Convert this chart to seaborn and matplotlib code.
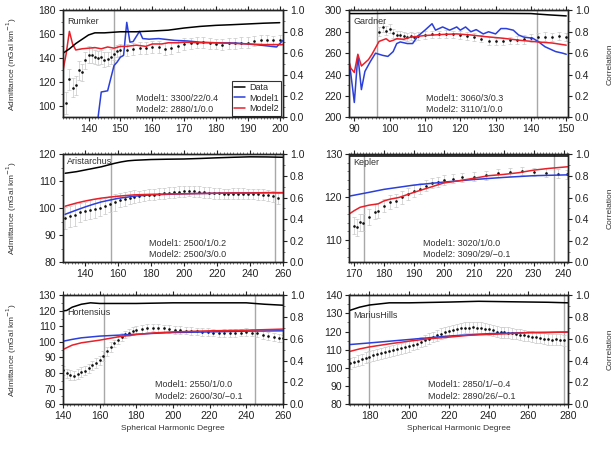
import matplotlib
matplotlib.use("Agg")
import matplotlib.pyplot as plt
from matplotlib.ticker import MultipleLocator, FormatStrFormatter
from matplotlib.lines import Line2D
import seaborn as sns

sns.set_theme(style="ticks")
plt.rcParams["font.family"] = ["Liberation Sans", "DejaVu Sans"]

# ---------------- Rumker ----------------
rumker_obs_deg = [133, 134, 135, 136, 137, 138, 139, 140, 141, 142, 143, 144, 145, 146, 147, 148, 149, 150,
                  152, 154, 156, 158, 160, 162, 164, 166, 168, 170, 172, 174, 176, 178, 180, 182, 184, 186,
                  188, 190, 192, 194, 196, 198, 200]
rumker_obs = [103, 122.5, 115.5, 117.5, 130, 128.5, 138.5, 143, 142.5, 141, 140.5, 141, 139, 139.5, 141.5,
              144, 146.5, 147, 147, 148, 148.5, 149, 149.5, 149.5, 148, 149, 150.5, 152, 152.5, 153, 153.5,
              152.5, 152, 151.5, 152.5, 152.5, 153, 153, 154.5, 155.5, 155.5, 155, 155.5]
rumker_err = [9, 9, 8, 8, 8, 7, 7, 7, 6, 6, 6, 6, 6, 6, 6, 5, 5, 5, 5, 5, 5, 5, 5, 5, 5, 5, 5, 5,
              4.5, 4.5, 4.5, 4.5, 4.5, 4.5, 4.5, 4.5, 4.5, 4.5, 4, 4, 4, 4, 4]
rumker_m1_deg = [143, 144, 146, 148, 149, 150, 151, 152, 153, 154, 156, 157, 159, 162, 167, 171, 175, 180,
                 186, 190, 194, 199, 201]
rumker_m1 = [91, 112, 113, 134, 137, 141, 142.5, 170, 153.5, 154, 162.5, 156.5, 156, 156.5, 155, 154.5,
             153.5, 153, 152.8, 152, 151, 149.5, 155]
rumker_m2_deg = [132, 133, 134, 135, 136, 138, 140, 142, 144, 146, 148, 150, 152, 155, 158, 160, 163, 165,
                 168, 170, 175, 180, 185, 190, 195, 201]
rumker_m2 = [130, 144, 162.5, 152, 147, 148, 148.5, 149, 148, 149.5, 148.5, 150, 150, 151, 150, 152, 152,
             153, 153, 153.5, 153, 153, 152.5, 152, 151.5, 151.5]
rumker_corr_deg = [132, 134, 136, 138, 140, 142, 145, 150, 155, 160, 165, 170, 175, 180, 185, 190, 195, 200]
rumker_corr = [0.60, 0.64, 0.69, 0.73, 0.77, 0.79, 0.79, 0.80, 0.80, 0.807, 0.815, 0.835, 0.85, 0.86,
               0.866, 0.873, 0.88, 0.885]

# ---------------- Gardner ----------------
gardner_obs_deg = [97, 98, 99, 100, 101, 102, 103, 104, 105, 106, 107, 108, 110, 112, 114, 116, 118, 120,
                   122, 124, 126, 128, 130, 132, 134, 136, 138, 140, 142, 144, 146, 148, 150]
gardner_obs = [280, 284, 281, 283, 278.5, 277, 277, 276, 275, 276, 275, 276, 277, 277.5, 277.5, 278, 277.5,
               277, 276, 275, 273.5, 271.5, 271, 271, 272, 272.5, 273, 274, 275, 275.5, 275, 276, 275]
gardner_err = [4, 4, 4, 4, 4, 4, 4, 4, 3.5, 3.5, 3.5, 3.5, 3.5, 3.5, 3.5, 3.5, 3.5, 3.5, 3.5, 3.5,
               3.5, 3.5, 3.5, 3.5, 3.5, 3.5, 4, 4, 4, 4, 4, 4, 4]
gardner_m1_deg = [88.5, 89, 90, 91, 92, 93, 94.5, 96, 98, 99.5, 101, 102, 103, 105, 106.5, 108, 110, 112,
                  113, 115, 117, 119, 120, 121.5, 123, 124.5, 126.5, 128, 130, 131.5, 133, 135, 136.5, 138,
                  140.5, 142, 144, 147, 149, 150]
gardner_m1 = [252, 241, 214, 258, 226, 243, 252, 260, 258, 257, 261.5, 269, 270.5, 269, 269, 276, 281.5,
              287.5, 281.5, 284.5, 281.5, 284.5, 281.5, 284.5, 280, 282, 278, 280, 278, 283, 283, 281.5,
              277, 275, 274, 271, 266, 261.5, 260, 259]
gardner_m2_deg = [88.5, 89, 90, 91, 92, 94, 95, 97, 99, 100, 101, 102, 104, 106, 110, 115, 119, 123, 127,
                  132, 137, 142, 146, 150]
gardner_m2 = [252, 246, 242, 259, 248, 254, 259, 271, 273.5, 271, 272, 273.5, 273, 275, 276.5, 277.5, 278,
              277, 275.5, 274, 272, 270.5, 269.5, 267.5]
gardner_corr_deg = [88.5, 95, 100, 110, 120, 130, 140, 142, 145, 150]
gardner_corr = [0.97, 0.97, 0.972, 0.972, 0.972, 0.972, 0.97, 0.965, 0.958, 0.948]

# ---------------- Aristarchus ----------------
arist_obs_deg = [128, 131, 134, 137, 140, 143, 146, 149, 152, 155, 158, 161, 164, 167, 170, 173, 176, 179,
                 182, 185, 188, 191, 194, 197, 200, 203, 206, 209, 212, 215, 218, 221, 224, 227, 230, 233,
                 236, 239, 242, 245, 248, 251, 254, 257]
arist_obs = [96.5, 97, 97.5, 98.5, 99, 99.5, 99.8, 100.3, 100.8, 101.5, 102.2, 103, 103.5, 104, 104.3,
             104.5, 104.8, 105, 105.1, 105.4, 105.6, 105.8, 106, 106.2, 106.3, 106.4, 106.3, 106.1, 106,
             105.8, 105.6, 105.5, 105.3, 105.3, 105.4, 105.4, 105.4, 105.3, 105.3, 105.2, 105.1, 104.9,
             104.4, 103.7]
arist_err = [4, 4, 4, 3.5, 3.5, 3.5, 3.5, 3, 3, 3, 3, 2.5, 2.5, 2.5, 2.5, 2, 2, 2, 2, 2, 2, 2, 2, 2,
             2, 2, 2, 2, 2, 2, 2, 2, 2, 2, 2, 2, 2, 2, 2, 2, 2, 2, 2, 2]
arist_m_deg = [128, 135, 140, 145, 150, 160, 170, 180, 190, 200, 210, 220, 230, 240, 250, 260]
arist_m1 = [97.8, 99.4, 100.5, 101.5, 102.4, 103.7, 104.5, 105, 105.2, 105.4, 105.5, 105.6, 105.7, 105.7,
            105.8, 105.8]
arist_m2 = [100.8, 102, 102.7, 103.3, 103.8, 104.5, 105, 105.2, 105.3, 105.4, 105.5, 105.6, 105.7, 105.7,
            105.8, 105.8]
arist_corr_deg = [128, 135, 140, 145, 150, 155, 158, 162, 166, 170, 180, 190, 200, 210, 220, 230, 240,
                  250, 260]
arist_corr = [0.825, 0.84, 0.855, 0.87, 0.885, 0.905, 0.917, 0.93, 0.94, 0.945, 0.952, 0.955, 0.957,
              0.962, 0.968, 0.973, 0.977, 0.976, 0.973]

# ---------------- Kepler ----------------
kepler_obs_deg = [170, 171, 172, 173, 175, 177, 178, 180, 182, 184, 186, 188, 190, 192, 194, 196, 198,
                  200, 203, 206, 210, 214, 218, 222, 226, 230, 234, 238, 241]
kepler_obs = [113.3, 112.9, 114.1, 114, 115.3, 116.6, 116.8, 118, 118.8, 119.1, 119.9, 120.7, 121.5, 122,
              122.6, 123.3, 123.6, 124, 124.3, 124.6, 124.8, 125.1, 125.6, 125.9, 126.1, 125.9, 125.7,
              125.5, 125.3]
kepler_err = [2, 2, 2, 2, 1.8, 1.8, 1.8, 1.6, 1.6, 1.5, 1.5, 1.4, 1.4, 1.3, 1.3, 1.2, 1.2, 1.2, 1.1,
              1.1, 1.1, 1, 1, 1, 1, 1, 1, 1, 1]
kepler_m1_deg = [168.3, 175, 180, 190, 200, 210, 220, 230, 241.5]
kepler_m1 = [120.2, 121.1, 121.8, 122.8, 123.5, 124.1, 124.6, 125, 125.2]
kepler_m2_deg = [168.3, 170, 172, 175, 178, 180, 182, 185, 190, 195, 200, 205, 210, 215, 220, 225, 230,
                 235, 241.5]
kepler_m2 = [116, 116.8, 117.6, 118.1, 118.4, 119.1, 119.5, 119.9, 121.1, 122.2, 123.3, 123.8, 124.4, 125,
             125.3, 125.7, 126.3, 126.7, 127.1]
kepler_corr_deg = [168.3, 180, 200, 220, 241.5]
kepler_corr = [0.982, 0.982, 0.982, 0.982, 0.982]

# ---------------- Hortensius ----------------
hort_obs_deg = [140, 142, 144, 146, 148, 150, 152, 154, 156, 158, 160, 162, 164, 166, 168, 170, 172, 174,
                176, 178, 180, 183, 186, 189, 192, 195, 198, 201, 204, 207, 210, 213, 216, 219, 222, 225,
                228, 231, 234, 237, 240, 243, 246, 249, 252, 255, 258, 260]
hort_obs = [81.8, 79.7, 78.8, 78.2, 79.3, 80.7, 81.5, 83, 85, 86.5, 88.2, 91, 94, 96.8, 99, 101.1, 103,
            104.8, 106, 107, 107.5, 108.2, 108.8, 109.2, 109, 108.6, 108.2, 107.8, 107.5, 107.3, 107.1,
            106.7, 106.4, 106.4, 106, 105.4, 105.6, 105.8, 105.8, 106, 106.4, 106, 105.6, 104.6, 103.8,
            103.2, 102.6, 102.2]
hort_err = [3, 3, 3, 3, 3, 3, 3, 3, 3, 3, 3, 3, 3, 3, 2.5, 2.5, 2.5, 2.5, 2.5, 2.5, 2.5, 2.5, 2.5, 2.5,
            2.5, 2.5, 2.5, 2.5, 2.5, 2.5, 2.5, 2.5, 2.5, 2.5, 2.5, 2.5, 2.5, 2.5, 2.5, 2.5, 2.5, 2.5,
            2.5, 2.5, 2.5, 2.5, 2.5, 2.5]
hort_m_deg = [140, 145, 150, 160, 170, 180, 190, 200, 220, 240, 260]
hort_m1 = [100.4, 101.6, 102.6, 103.7, 104.3, 104.9, 105.5, 106, 106.4, 106.9, 107.1]
hort_m2 = [95.1, 97.9, 99.4, 101.1, 103.2, 104.7, 105.8, 106.4, 107.1, 107.5, 108.2]
hort_corr_deg = [140, 142, 145, 150, 155, 160, 170, 180, 200, 220, 240, 250, 260]
hort_corr = [0.856, 0.86, 0.89, 0.917, 0.93, 0.924, 0.924, 0.924, 0.93, 0.93, 0.93, 0.917, 0.908]

# ---------------- MariusHills ----------------
marius_obs_deg = [170, 172, 174, 176, 178, 180, 182, 184, 186, 188, 190, 192, 194, 196, 198, 200, 202, 204,
                  206, 208, 210, 212, 214, 216, 218, 220, 222, 224, 226, 228, 230, 232, 234, 236, 238, 240,
                  242, 244, 246, 248, 250, 252, 254, 256, 258, 260, 262, 264, 266, 268, 270, 272, 274, 276,
                  278]
marius_obs = [102.5, 103.2, 104, 104.8, 105.5, 106.2, 106.8, 107.4, 108, 108.5, 109, 109.6, 110.1, 110.7,
              111.3, 111.9, 112.6, 113.3, 114.2, 115.1, 116, 117, 118, 118.8, 119.6, 120.3, 120.8, 121.3,
              121.7, 122, 122.2, 122.3, 122.2, 122, 121.6, 121.2, 120.6, 120, 119.6, 119.5, 119.4, 119,
              118.6, 118.2, 117.8, 117.5, 117.1, 116.8, 116.4, 116, 115.6, 115.5, 115.6, 115.4, 115.2]
marius_err = [3, 3, 3, 3, 3, 3, 3, 3, 3, 3, 3, 3, 3, 3, 3, 3, 3, 3, 3, 3, 3, 3, 3, 3, 3, 3, 3, 3,
              3, 3, 3, 3, 3, 3, 3, 3, 3, 3, 3, 3, 3, 3, 3, 3, 3, 3, 3, 3, 3, 3, 3, 3, 3, 3, 3]
marius_m1_deg = [170, 180, 200, 220, 240, 260, 280]
marius_m1 = [112.8, 113.7, 115.6, 117.5, 118.8, 119.4, 119.7]
marius_m2_deg = [170, 175, 180, 190, 200, 210, 220, 230, 240, 250, 260, 270, 280]
marius_m2 = [109, 110.4, 111.5, 113.2, 114.7, 116, 116.9, 117.9, 118.4, 118.8, 119.4, 119.4, 119.7]
marius_corr_deg = [170, 175, 180, 185, 190, 200, 220, 235, 250, 270, 280]
marius_corr = [0.86, 0.89, 0.91, 0.92, 0.93, 0.93, 0.937, 0.944, 0.94, 0.935, 0.93]

panels = [
    dict(name="Rumker", obs_deg=rumker_obs_deg, obs=rumker_obs, err=rumker_err,
         m1_deg=rumker_m1_deg, m1=rumker_m1, m2_deg=rumker_m2_deg, m2=rumker_m2,
         corr_deg=rumker_corr_deg, corr=rumker_corr, xlim=(132, 201), ylim=(90.8, 180),
         xmaj=10, xmin=1, ymaj=20, ymin=10, vlines=[147.9], name_y=0.9,
         text="Model1: 3300/22/0.4\nModel2: 2880/1/0.0", text_x=0.33, pos=(0, 0)),
    dict(name="Gardner", obs_deg=gardner_obs_deg, obs=gardner_obs, err=gardner_err,
         m1_deg=gardner_m1_deg, m1=gardner_m1, m2_deg=gardner_m2_deg, m2=gardner_m2,
         corr_deg=gardner_corr_deg, corr=gardner_corr, xlim=(88.5, 150.5), ylim=(200, 300),
         xmaj=10, xmin=1, ymaj=20, ymin=10, vlines=[96.5, 141.7], name_y=0.9,
         text="Model1: 3060/3/0.3\nModel2: 3110/1/0.0", text_x=0.35, pos=(0, 1)),
    dict(name="Aristarchus", obs_deg=arist_obs_deg, obs=arist_obs, err=arist_err,
         m1_deg=arist_m_deg, m1=arist_m1, m2_deg=arist_m_deg, m2=arist_m2,
         corr_deg=arist_corr_deg, corr=arist_corr, xlim=(126.7, 260), ylim=(80, 120),
         xmaj=20, xmin=2, ymaj=10, ymin=5, vlines=[155.8, 255.2], name_y=0.93,
         text="Model1: 2500/1/0.2\nModel2: 2500/3/0.0", text_x=0.39, pos=(1, 0)),
    dict(name="Kepler", obs_deg=kepler_obs_deg, obs=kepler_obs, err=kepler_err,
         m1_deg=kepler_m1_deg, m1=kepler_m1, m2_deg=kepler_m2_deg, m2=kepler_m2,
         corr_deg=kepler_corr_deg, corr=kepler_corr, xlim=(168.3, 241.5), ylim=(104.7, 130),
         xmaj=10, xmin=1, ymaj=10, ymin=2, vlines=[173.4, 236.9], name_y=0.92,
         text="Model1: 3020/1/0.0\nModel2: 3090/29/\u22120.1", text_x=0.34, pos=(1, 1)),
    dict(name="Hortensius", obs_deg=hort_obs_deg, obs=hort_obs, err=hort_err,
         m1_deg=hort_m_deg, m1=hort_m1, m2_deg=hort_m_deg, m2=hort_m2,
         corr_deg=hort_corr_deg, corr=hort_corr, xlim=(140, 260), ylim=(60, 130),
         xmaj=20, xmin=2, ymaj=10, ymin=5, vlines=[162.3, 244.6], name_y=0.84,
         text="Model1: 2550/1/0.0\nModel2: 2600/30/\u22120.1", text_x=0.42, pos=(2, 0)),
    dict(name="MariusHills", obs_deg=marius_obs_deg, obs=marius_obs, err=marius_err,
         m1_deg=marius_m1_deg, m1=marius_m1, m2_deg=marius_m2_deg, m2=marius_m2,
         corr_deg=marius_corr_deg, corr=marius_corr, xlim=(169.7, 280), ylim=(80, 140),
         xmaj=20, xmin=2, ymaj=10, ymin=5, vlines=[180, 278], name_y=0.81,
         text="Model1: 2850/1/\u22120.4\nModel2: 2890/26/\u22120.1", text_x=0.36, pos=(2, 1)),
]

fig = plt.figure(figsize=(6.16, 4.5), dpi=100)
col_left = [0.1023, 0.5666]
col_w = [0.357, 0.3555]
row_bottom = [0.739, 0.417, 0.102]
row_h = [0.238, 0.24, 0.242]

for p in panels:
    r, c = p["pos"]
    ax = fig.add_axes([col_left[c], row_bottom[r], col_w[c], row_h[r]])
    ax2 = ax.twinx()

    for v in p["vlines"]:
        ax.axvline(v, color="#a8a8a8", lw=1.0, zorder=1)

    ax.errorbar(p["obs_deg"], p["obs"], yerr=p["err"], fmt="o", ms=0.9, color="#111111",
                ecolor="#c8c8c8", elinewidth=0.5, capsize=1.2, capthick=0.5, zorder=2)
    sns.lineplot(x=p["m1_deg"], y=p["m1"], ax=ax, color="#2a3fdc", lw=1.1, zorder=3)
    sns.lineplot(x=p["m2_deg"], y=p["m2"], ax=ax, color="#e8202a", lw=1.1, zorder=4)
    sns.lineplot(x=p["corr_deg"], y=p["corr"], ax=ax2, color="black", lw=1.1)

    ax.set_xlim(*p["xlim"])
    ax.set_ylim(*p["ylim"])
    ax2.set_ylim(0, 1)
    ax.xaxis.set_major_locator(MultipleLocator(p["xmaj"]))
    ax.xaxis.set_minor_locator(MultipleLocator(p["xmin"]))
    ax.yaxis.set_major_locator(MultipleLocator(p["ymaj"]))
    ax.yaxis.set_minor_locator(MultipleLocator(p["ymin"]))
    ax2.yaxis.set_major_locator(MultipleLocator(0.2))
    ax2.yaxis.set_minor_locator(MultipleLocator(0.1))
    ax2.yaxis.set_major_formatter(FormatStrFormatter("%.1f"))

    for a in (ax, ax2):
        for s in a.spines.values():
            s.set_linewidth(1.0)
            s.set_color("#222222")
    ax.tick_params(axis="both", which="major", direction="out", length=3, width=0.8,
                   labelsize=7.5, pad=2, colors="#222222", top=True)
    ax.tick_params(axis="both", which="minor", direction="out", length=1.5, width=0.5,
                   top=True, colors="#444444")
    ax2.tick_params(axis="y", which="major", direction="out", length=3, width=0.8,
                    labelsize=7.5, pad=2, colors="#222222")
    ax2.tick_params(axis="y", which="minor", direction="out", length=1.5, width=0.5, colors="#444444")
    ax.set_xlabel("")
    ax.set_ylabel("")
    ax2.set_ylabel("")

    ax.text(0.02, p["name_y"], p["name"], transform=ax.transAxes, fontsize=6.5, color="#333333",
            ha="left", va="center", zorder=6)
    ax.text(p["text_x"], 0.03, p["text"], transform=ax.transAxes, fontsize=6.5, color="#333333",
            ha="left", va="bottom", linespacing=1.35, zorder=6)

    if c == 0:
        ax.set_ylabel("Admittance (mGal km$^{-1}$)", fontsize=6, color="#333333")
        ax.yaxis.set_label_coords(-0.2, 0.5)
    else:
        ax2.set_ylabel("Correlation", fontsize=6, color="#333333")
        ax2.yaxis.set_label_coords(1.175, 0.5)
    if r == 2:
        ax.set_xlabel("Spherical Harmonic Degree", fontsize=6, color="#333333")
        ax.xaxis.set_label_coords(0.5, -0.19)

    if p["name"] == "Rumker":
        handles = [Line2D([], [], color="black", lw=1.1),
                   Line2D([], [], color="#2a3fdc", lw=1.1),
                   Line2D([], [], color="#e8202a", lw=1.1)]
        leg = ax2.legend(handles, ["Data", "Model1", "Model2"], loc="lower right", fontsize=6.5,
                         frameon=True, fancybox=False, handlelength=1.2, handletextpad=0.4,
                         borderpad=0.3, labelspacing=0.15, borderaxespad=0.2)
        leg.get_frame().set_edgecolor("black")
        leg.get_frame().set_linewidth(0.8)

fig.savefig("out.png", dpi=100)
